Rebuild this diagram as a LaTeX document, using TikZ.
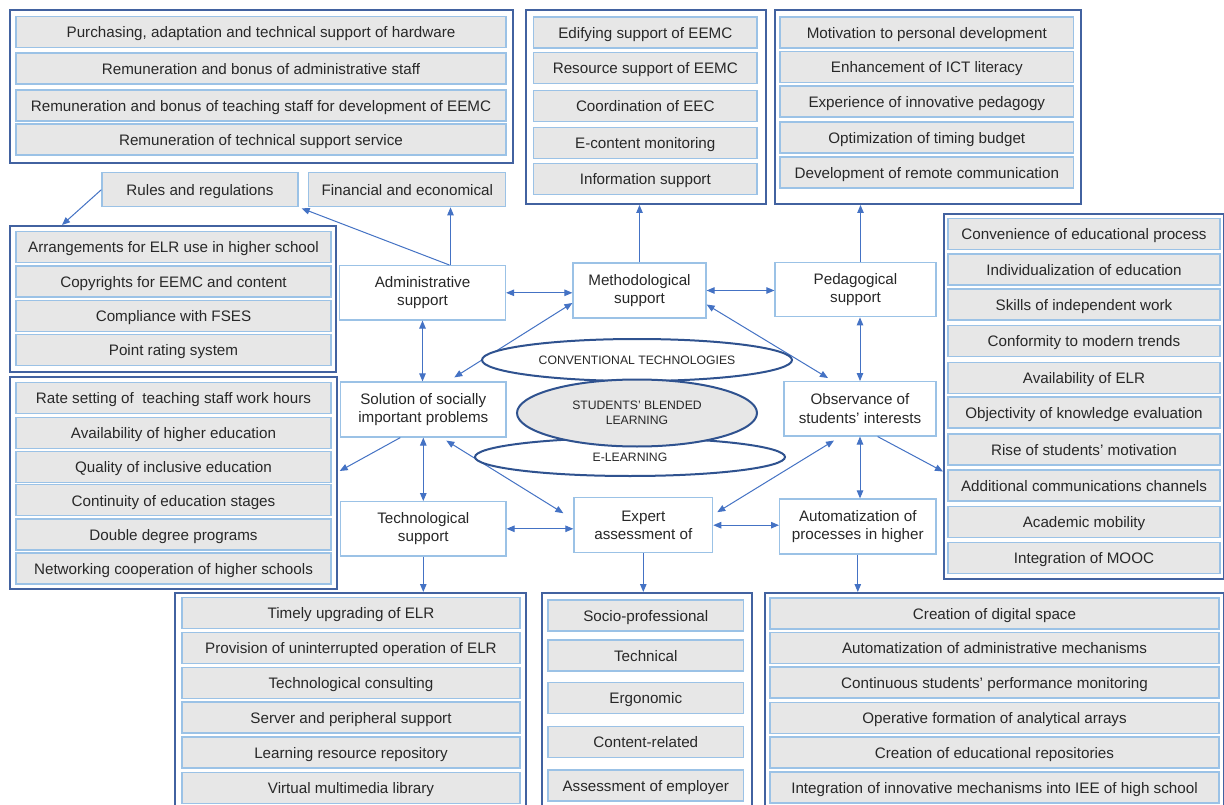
\documentclass[tikz,border=0pt]{standalone}
\usepackage{fontspec}
\setmainfont{Liberation Sans}
\usetikzlibrary{arrows.meta,shapes.geometric}
\definecolor{frameblue}{RGB}{66,98,160}
\definecolor{rowblue}{RGB}{155,194,230}
\definecolor{rowgray}{RGB}{231,231,231}
\definecolor{arrowblue}{RGB}{68,114,196}
\definecolor{ellblue}{RGB}{47,82,143}
\definecolor{txt}{RGB}{40,40,40}
\newcommand\rowfont{\fontsize{15.2}{18.5}\selectfont}
\newcommand\ellfont{\fontsize{12.2}{15.5}\selectfont}
\begin{document}
\begin{tikzpicture}[x=1pt,y=-1pt,
  frame/.style={draw=frameblue, line width=2pt, anchor=north west, inner sep=0pt},
  row/.style={draw=rowblue, fill=rowgray, line width=1.3pt, minimum height=31pt, inner sep=0pt, text height=14pt, text depth=2.6pt, text=txt, font=\rowfont},
  cbox/.style={draw=rowblue, fill=white, line width=1.2pt, inner sep=0pt, align=center, text=txt, font=\rowfont},
  ell/.style={ellipse, draw=ellblue, line width=2pt, fill=white, inner sep=0pt, align=center, text=txt, font=\ellfont},
  arr/.style={draw=arrowblue, line width=1pt, -{Triangle[length=8pt,width=6.5pt]}},
  darr/.style={draw=arrowblue, line width=1pt, {Triangle[length=8pt,width=6.5pt]}-{Triangle[length=8pt,width=6.5pt]}}]
\useasboundingbox (0,0) rectangle (1224,805);
\fill[white] (0,0) rectangle (1224,805);
\clip (0,0) rectangle (1224,805);

% ---------- frames ----------
\node[frame, minimum width=503pt, minimum height=153pt] (F1) at (9,9) {};
\node[frame, minimum width=326pt, minimum height=146pt] (F2) at (9,225) {};
\node[frame, minimum width=326.7pt, minimum height=212pt] (F3) at (9,376) {};
\node[frame, minimum width=240pt, minimum height=194pt] (MF) at (524.5,9) {};
\node[frame, minimum width=306pt, minimum height=194pt] (PF) at (774,9) {};
\node[frame, minimum width=279.7pt, minimum height=365pt] (RF) at (943,213) {};
\node[frame, minimum width=351pt, minimum height=230pt] (TF) at (174,592) {};
\node[frame, minimum width=210pt, minimum height=230pt] (EF) at (541,592) {};
\node[frame, minimum width=458.7pt, minimum height=230pt] (AF) at (764,592) {};

% ---------- rows ----------
\foreach \t/\y [count=\i] in {{Purchasing, adaptation and technical support of hardware}/32,
  Remuneration and bonus of administrative staff/68.5,
  Remuneration and bonus of teaching staff for development of EEMC/105.5,
  Remuneration of technical support service/139.5}
  {\node[row, minimum width=490pt] (fa\i) at (261,\y) {\t};}

\foreach \t/\y [count=\i] in {Arrangements for ELR use in higher school/247.3,
  Copyrights for EEMC and content/281.5,
  Compliance with FSES/315.7,
  Point rating system/350}
  {\node[row, minimum width=315pt] (fb\i) at (173.5,\y) {\t};}

\foreach \t/\y [count=\i] in {Rate setting of \ teaching staff work hours/398,
  Availability of higher education/433,
  Quality of inclusive education/466.7,
  Continuity of education stages/500.3,
  Double degree programs/534.5,
  Networking cooperation of higher schools/568.5}
  {\node[row, minimum width=315pt] (fc\i) at (173.5,\y) {\t};}

\foreach \t/\y [count=\i] in {Edifying support of EEMC/32.5,
  Resource support of EEMC/68.2,
  Coordination of EEC/106,
  E-content monitoring/143,
  Information support/179}
  {\node[row, minimum width=223.5pt] (fm\i) at (645.3,\y) {\t};}

\foreach \t/\y [count=\i] in {Motivation to personal development/32.5,
  Enhancement of ICT literacy/67,
  Experience of innovative pedagogy/101.5,
  Optimization of timing budget/137.5,
  Development of remote communication/172.5}
  {\node[row, minimum width=293.6pt] (fp\i) at (926.8,\y) {\t};}

\foreach \t/\y [count=\i] in {Convenience of educational process/234,
  Individualization of education/269.5,
  Skills of independent work/304.5,
  Conformity to modern trends/341,
  Availability of ELR/378,
  Objectivity of knowledge evaluation/412.5,
  Rise of students' motivation/449.5,
  Additional communications channels/485.5,
  Academic mobility/522,
  Integration of MOOC/558}
  {\node[row, minimum width=272pt] (fr\i) at (1084,\y) {\t};}

\foreach \t/\y [count=\i] in {Timely upgrading of ELR/613,
  Provision of uninterrupted operation of ELR/648,
  Technological consulting/683,
  Server and peripheral support/717.5,
  Learning resource repository/752.5,
  Virtual multimedia library/788}
  {\node[row, minimum width=338pt] (ft\i) at (351,\y) {\t};}

\foreach \t/\y [count=\i] in {Socio-professional/615.5,
  Technical/655.5,
  Ergonomic/698,
  Content-related/742,
  Assessment of employer/785.5}
  {\node[row, minimum width=195.6pt] (fe\i) at (645.8,\y) {\t};}

\foreach \t/\y [count=\i] in {Creation of digital space/613.5,
  Automatization of administrative mechanisms/648,
  Continuous students' performance monitoring/682.5,
  Operative formation of analytical arrays/718,
  Creation of educational repositories/752.5,
  Integration of innovative mechanisms into IEE of high school/787.5}
  {\node[row, minimum width=449pt] (fz\i) at (994.5,\y) {\t};}

% ---------- category boxes ----------
\node[row, minimum width=196pt, minimum height=34pt] (rules) at (200,189.7) {Rules and regulations};
\node[row, minimum width=197pt, minimum height=34pt] (fin) at (407.3,189.7) {Financial and economical};

% ---------- central nodes ----------
\node[cbox, minimum width=166pt, minimum height=54.3pt] (admin) at (422.5,292.8) {Administrative\\support};
\node[cbox, minimum width=133pt, minimum height=55pt] (meth) at (639.5,290.5) {Methodological\\support};
\node[cbox, minimum width=161pt, minimum height=54pt] (ped) at (855.5,289.8) {Pedagogical\\support};
\node[cbox, minimum width=165.3pt, minimum height=55pt] (sol) at (423.3,409.5) {Solution of socially\\important problems};
\node[cbox, minimum width=152pt, minimum height=54.3pt] (obs) at (860,408.8) {Observance of\\students' interests};
\node[cbox, minimum width=165.3pt, minimum height=54.3pt] (tech) at (423.3,528.8) {Technological\\support};
\node[cbox, minimum width=138.7pt, minimum height=55pt] (expert) at (643.3,525.2) {Expert\\assessment of};
\node[cbox, minimum width=156.4pt, minimum height=55pt] (auto) at (857.8,526.5) {Automatization of\\processes in higher};

% ---------- connectors ----------
\coordinate (f2t) at ([xshift=53pt]F2.north west);
\draw[arr] (rules.west) -- (f2t);
\draw[arr] ([xshift=27pt]admin.north) -- ([xshift=3pt,yshift=-1pt]rules.south east);
\draw[arr] ([xshift=28pt]admin.north) -- ([xshift=28pt]admin.north |- fin.south);
\draw[arr] (meth.north) -- (meth.north |- MF.south);
\draw[arr] ([xshift=5pt]ped.north) -- ([xshift=5pt]ped.north |- PF.south);

\draw[darr] (admin.east) -- (admin.east -| meth.west);
\draw[darr] (meth.east) -- (meth.east -| ped.west);
\draw[darr] (admin.south) -- (admin.south |- sol.north);
\draw[darr] (obs.north |- ped.south) -- (obs.north);
\draw[darr] (sol.south) -- (sol.south |- tech.north);
\draw[darr] (obs.south) -- (obs.south |- auto.north);
\draw[darr] (tech.east) -- (tech.east -| expert.west);
\draw[darr] (expert.east) -- (expert.east -| auto.west);

\draw[darr] ([yshift=-12.5pt]meth.west) -- ([xshift=31pt,yshift=4pt]sol.north);
\draw[darr] ([yshift=-14pt]meth.east) -- ([xshift=-32pt,yshift=3pt]obs.north);
\draw[darr] ([xshift=23pt,yshift=-3pt]sol.south) -- ([xshift=-10pt,yshift=12pt]expert.west);
\draw[darr] ([xshift=-26pt,yshift=-4pt]obs.south) -- ([xshift=4pt,yshift=13pt]expert.east);

\draw[arr] ([xshift=-23pt]sol.south) -- ([xshift=2pt,yshift=12pt]F3.east);
\draw[arr] ([xshift=17.6pt]obs.south) -- ([yshift=-75pt]RF.west);

\draw[arr] (tech.south) -- (tech.south |- TF.north);
\draw[arr] (expert.south) -- (expert.south |- EF.north);
\draw[arr] (auto.south) -- (auto.south |- AF.north);

% ---------- ellipses ----------
\node[ell, minimum width=310pt, minimum height=42pt] (conv) at (637,360) {CONVENTIONAL TECHNOLOGIES};
\node[ell, minimum width=310pt, minimum height=38pt] (elearn) at (630,457) {\raisebox{-2pt}{E-LEARNING}};
\node[ell, fill=rowgray, minimum width=240pt, minimum height=67pt] (blend) at (637,413) {STUDENTS' BLENDED\\LEARNING};
\end{tikzpicture}
\end{document}
